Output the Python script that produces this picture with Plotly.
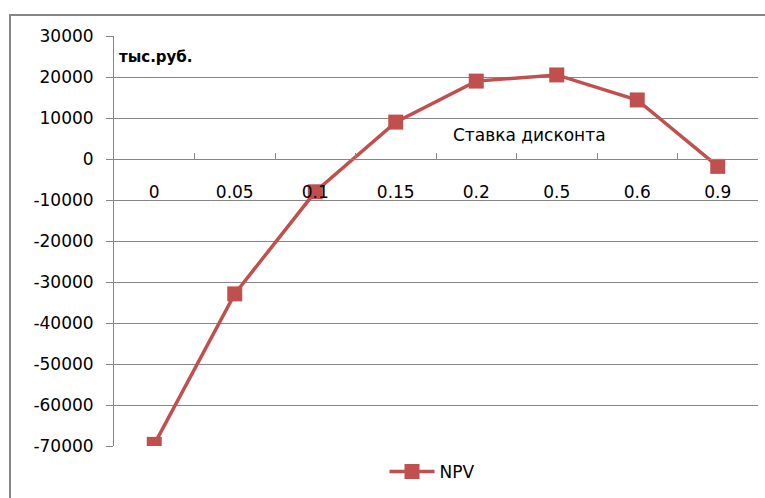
import plotly.graph_objects as go

categories = ["0", "0.05", "0.1", "0.15", "0.2", "0.5", "0.6", "0.9"]
npv = [-69600, -32900, -8000, 9000, 19000, 20500, 14400, -1800]
y_ticks = [30000, 20000, 10000, 0, -10000, -20000, -30000, -40000, -50000, -60000, -70000]

W, H = 765, 498
ml, mr, mt, mb = 114, 7, 36, 52
pw, ph = W - ml - mr, H - mt - mb

red = "#C0504D"
grid = "#868686"
font = "DejaVu Sans"

fig = go.Figure()
fig.add_trace(go.Scatter(
    x=categories, y=npv, mode="lines+markers", name="NPV",
    line=dict(color=red, width=3.5),
    marker=dict(symbol="square", size=15, color=red),
))

ymin, ymax = -70000, 30000
zero_pos = (0 - ymin) / (ymax - ymin)

fig.update_layout(
    width=W, height=H,
    margin=dict(l=ml, r=mr, t=mt, b=mb, autoexpand=False),
    paper_bgcolor="white", plot_bgcolor="white",
    font=dict(family=font, size=17, color="#000000"),
    showlegend=True,
    legend=dict(orientation="h", x=(432 - ml) / pw, xanchor="center",
                y=-8 / ph, yanchor="top",
                font=dict(family=font, size=17), itemwidth=45),
    xaxis=dict(
        type="category", range=[-0.5, len(categories) - 0.5],
        anchor="free", position=zero_pos, automargin=False,
        showline=True, linecolor=grid, linewidth=1,
        ticks="inside", ticklen=6, tickcolor=grid, tickson="boundaries",
        showgrid=False, zeroline=False,
        tickfont=dict(family=font, size=17),
        ticklabelstandoff=18,
    ),
    yaxis=dict(
        range=[ymin, ymax], tickvals=y_ticks, ticktext=[str(v) for v in y_ticks],
        automargin=False,
        showline=True, linecolor=grid, linewidth=1,
        ticks="outside", ticklen=7, tickcolor=grid,
        showgrid=True, gridcolor=grid, gridwidth=1,
        zeroline=True, zerolinecolor=grid, zerolinewidth=1,
        tickfont=dict(family=font, size=17),
        ticklabelstandoff=9,
    ),
)

fig.add_annotation(
    text="<b>тыс.руб.</b>", xref="paper", yref="paper",
    x=(117 - ml) / pw, y=1 - (57 - mt) / ph, xanchor="left", yanchor="middle",
    showarrow=False, font=dict(family=font, size=15),
)
fig.add_annotation(
    text="Ставка дисконта", xref="paper", yref="paper",
    x=(529 - ml) / pw, y=1 - (135 - mt) / ph, xanchor="center", yanchor="middle",
    showarrow=False, font=dict(family=font, size=17),
)

# outer chart border
fig.add_shape(
    type="rect", xref="paper", yref="paper",
    x0=(10 - ml) / pw, x1=(775 - ml) / pw,
    y0=1 - (510 - mt) / ph, y1=1 - (15 - mt) / ph,
    line=dict(color=grid, width=2), fillcolor="rgba(0,0,0,0)", layer="below",
)

fig.write_html(
    "out.html",
    config={"displayModeBar": False},
    post_script="document.body.style.margin='0';document.body.style.overflow='hidden';",
)
